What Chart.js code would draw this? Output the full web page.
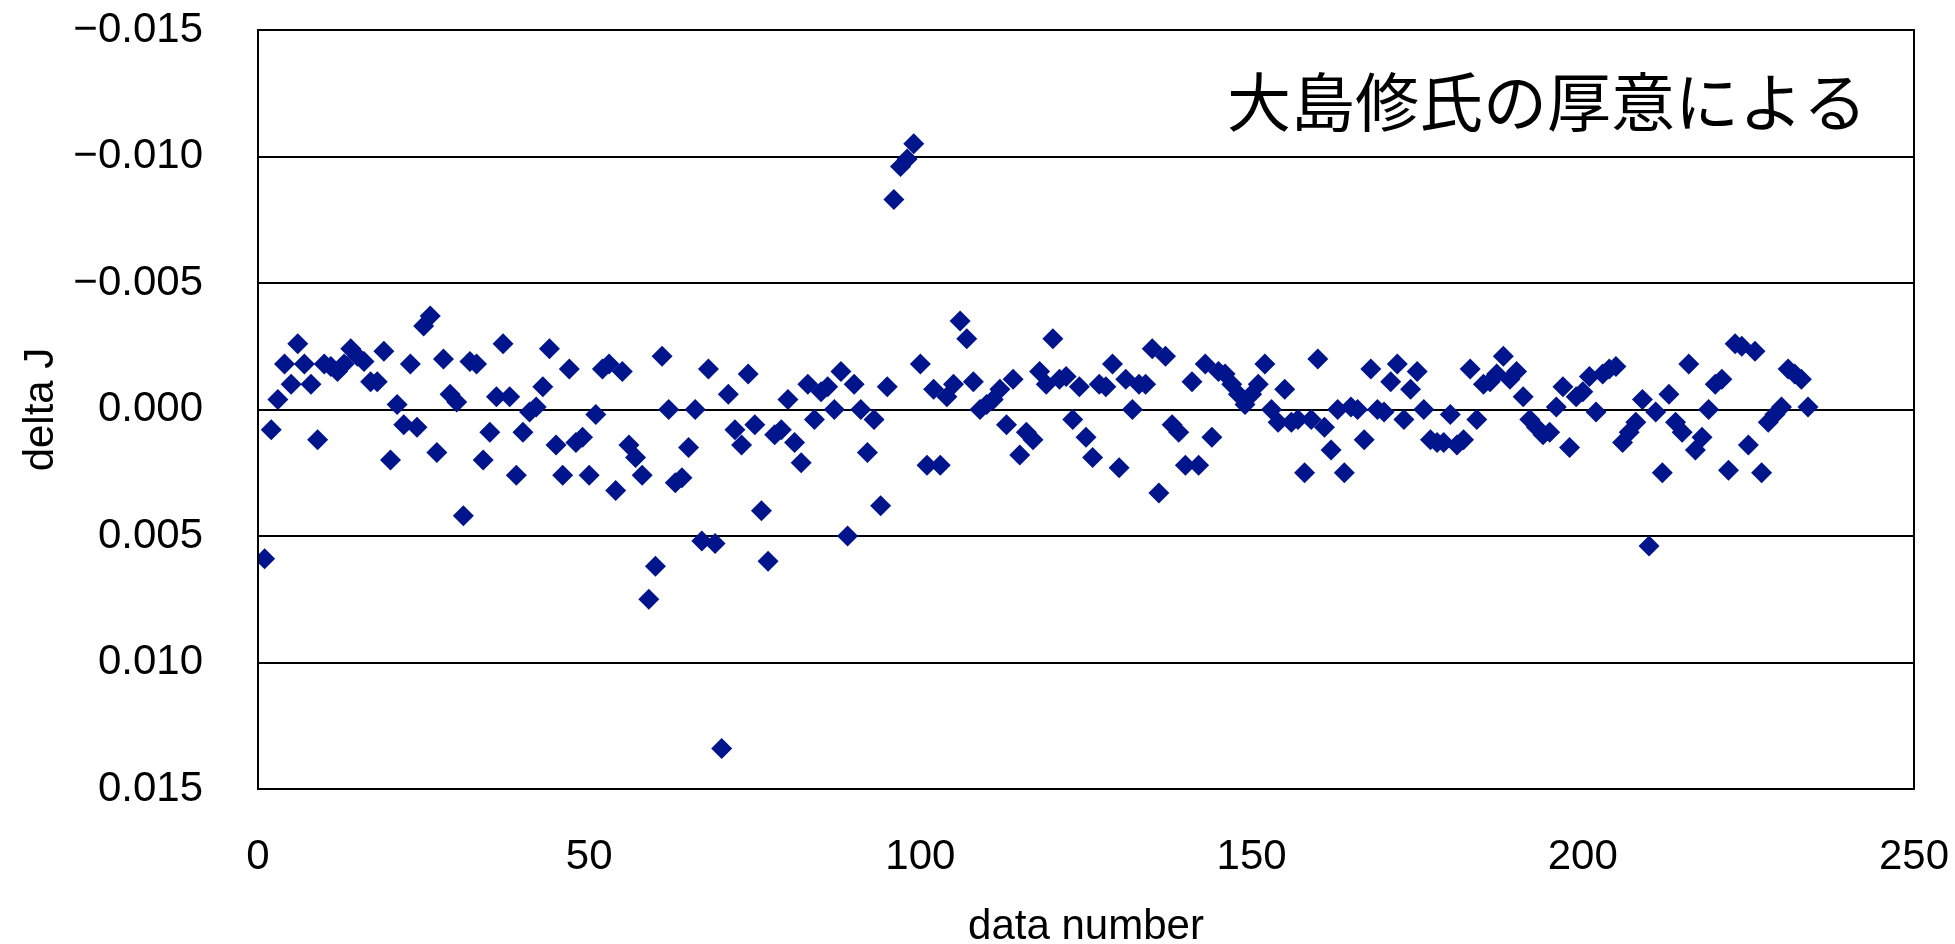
<!DOCTYPE html>
<html lang="ja">
<head>
<meta charset="utf-8">
<title>delta J</title>
<script src="https://cdn.jsdelivr.net/npm/chart.js@4/dist/chart.umd.min.js"></script>
<style>
  html, body { margin: 0; padding: 0; background: #fff; }
  #wrap { width: 1955px; height: 944px; position: relative; }
</style>
</head>
<body>
<div id="wrap"><canvas id="chart"></canvas></div>
<script>
// delta J for each data number (1, 2, 3, ...)
const deltaJ = [
  0.0059, 0.0008, -0.0004, -0.0018, -0.0010, -0.0026, -0.0018, -0.0010, 0.0012, -0.0018,
  -0.0017, -0.0015, -0.0018, -0.0024, -0.0021, -0.0019, -0.0011, -0.0011, -0.0023, 0.0020,
  -0.0002, 0.0006, -0.0018, 0.0007, -0.0033, -0.0037, 0.0017, -0.0020, -0.0006, -0.0003,
  0.0042, -0.0019, -0.0018, 0.0020, 0.0009, -0.0005, -0.0026, -0.0005, 0.0026, 0.0009,
  0.0001, -0.0001, -0.0009, -0.0024, 0.0014, 0.0026, -0.0016, 0.0013, 0.0011, 0.0026,
  0.0002, -0.0016, -0.0018, 0.0032, -0.0015, 0.0014, 0.0019, 0.0026, 0.0075, 0.0062,
  -0.0021, 0.0000, 0.0029, 0.0027, 0.0015, 0.0000, 0.0052, -0.0016, 0.0053, 0.0134,
  -0.0006, 0.0008, 0.0014, -0.0014, 0.0006, 0.0040, 0.0060, 0.0010, 0.0008, -0.0004,
  0.0013, 0.0021, -0.0010, 0.0004, -0.0007, -0.0009, 0.0000, -0.0015, 0.0050, -0.0010,
  0.0000, 0.0017, 0.0004, 0.0038, -0.0009, -0.0083, -0.0096, -0.0099, -0.0105, -0.0018,
  0.0022, -0.0008, 0.0022, -0.0005, -0.0010, -0.0035, -0.0028, -0.0011, 0.0000, -0.0002,
  -0.0004, -0.0008, 0.0006, -0.0012, 0.0018, 0.0009, 0.0012, -0.0015, -0.0010, -0.0028,
  -0.0012, -0.0013, 0.0004, -0.0009, 0.0011, 0.0019, -0.0010, -0.0009, -0.0018, 0.0023,
  -0.0012, 0.0000, -0.0010, -0.0010, -0.0024, 0.0033, -0.0021, 0.0006, 0.0009, 0.0022,
  -0.0011, 0.0022, -0.0018, 0.0011, -0.0015, -0.0014, -0.0010, -0.0006, -0.0002, -0.0006,
  -0.0010, -0.0018, 0.0000, 0.0005, -0.0008, 0.0005, 0.0004, 0.0025, 0.0004, -0.0020,
  0.0007, 0.0016, 0.0000, 0.0025, -0.0001, 0.0000, 0.0012, -0.0016, 0.0000, 0.0001,
  -0.0011, -0.0018, 0.0004, -0.0008, -0.0015, 0.0000, 0.0012, 0.0013, 0.0013, 0.0002,
  0.0014, 0.0012, -0.0016, 0.0004, -0.0010, -0.0011, -0.0014, -0.0021, -0.0012, -0.0015,
  -0.0005, 0.0004, 0.0007, 0.0010, 0.0009, -0.0001, -0.0009, 0.0015, -0.0005, -0.0007,
  -0.0013, 0.0001, -0.0014, -0.0016, -0.0017, 0.0013, 0.0009, 0.0005, -0.0004, 0.0054,
  0.0001, 0.0025, -0.0006, 0.0005, 0.0009, -0.0018, 0.0016, 0.0011, 0.0000, -0.0010,
  -0.0012, 0.0024, -0.0026, -0.0025, 0.0014, -0.0023, 0.0025, 0.0005, 0.0002, -0.0001,
  -0.0016, -0.0014, -0.0012, -0.0001
];
// data number of each value (1-based)
const dataNumbers = deltaJ.map((_, i) => i + 1);

const xTicks = [0, 50, 100, 150, 200, 250];
const yTicks = [-0.015, -0.010, -0.005, 0.000, 0.005, 0.010, 0.015];
const noteText = '大島修氏の厚意による';

const MARK = '#00148c';
const TICK_FONT = { family: '"Liberation Sans", Arial, sans-serif', size: 42 };

function fmtY(v) {
  if (Math.abs(v) < 1e-9) return '0.000';
  const s = Math.abs(v).toFixed(3);
  return v < 0 ? '\u2212' + s : s;
}

// frame round the plot area and the credit note
const framePlugin = {
  id: 'frame',
  afterDraw(chart) {
    const { ctx, chartArea: a } = chart;
    ctx.save();
    ctx.strokeStyle = '#000';
    ctx.lineWidth = 2;
    ctx.strokeRect(a.left, a.top, a.right - a.left, a.bottom - a.top);
    ctx.fillStyle = '#000';
    ctx.font = '64px "Noto Sans CJK JP", sans-serif';
    ctx.textAlign = 'center';
    ctx.textBaseline = 'middle';
    ctx.fillText(noteText, 1547, 102);
    ctx.restore();
  }
};

const points = dataNumbers.map((n, i) => ({ x: n, y: deltaJ[i] }));

new Chart(document.getElementById('chart'), {
  type: 'scatter',
  data: {
    datasets: [{
      data: points,
      pointStyle: 'rectRot',
      pointRadius: 10.5,
      pointHoverRadius: 10.5,
      backgroundColor: MARK,
      borderColor: MARK,
      borderWidth: 0,
    }]
  },
  options: {
    responsive: true,
    maintainAspectRatio: false,
    animation: false,
    layout: { padding: { left: 0, right: 41, top: 30, bottom: 0 } },
    plugins: {
      legend: { display: false },
      tooltip: { enabled: false },
    },
    scales: {
      x: {
        type: 'linear',
        min: 0,
        max: 250,
        afterBuildTicks: s => { s.ticks = xTicks.map(v => ({ value: v })); },
        afterFit: s => { s.height = 155; s.paddingLeft = 0; s.paddingRight = 0; },
        grid: { display: false, drawTicks: false },
        border: { display: false },
        ticks: { color: '#000', font: TICK_FONT, padding: 43, maxRotation: 0 },
        title: {
          display: true,
          text: 'data number',
          color: '#000',
          font: { ...TICK_FONT, lineHeight: 0.8 },
          padding: { top: 0, bottom: 0 },
        },
      },
      y: {
        type: 'linear',
        reverse: true,
        min: -0.015,
        max: 0.015,
        afterBuildTicks: s => { s.ticks = yTicks.map(v => ({ value: v })); },
        afterFit: s => { s.width = 258; s.paddingTop = 0; s.paddingBottom = 0; },
        grid: { color: '#000', lineWidth: 2, drawTicks: false },
        border: { display: false },
        ticks: { color: '#000', font: TICK_FONT, padding: 55, callback: v => fmtY(v) },
        title: {
          display: true,
          text: 'delta J',
          color: '#000',
          font: TICK_FONT,
          padding: { top: 16, bottom: 0 },
        },
      },
    },
  },
  plugins: [framePlugin],
});
</script>
</body>
</html>
